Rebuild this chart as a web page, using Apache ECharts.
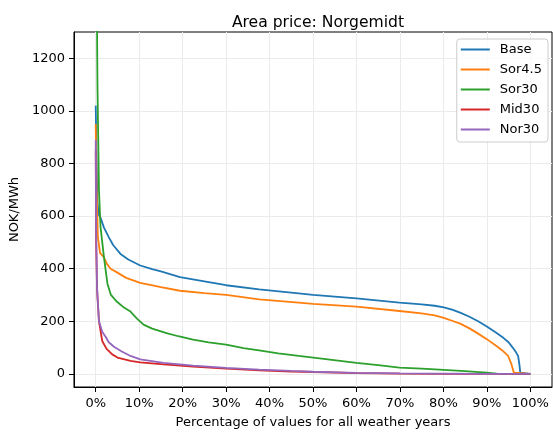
<!DOCTYPE html>
<html>
<head>
<meta charset="utf-8">
<script src="https://cdn.jsdelivr.net/npm/echarts@6/dist/echarts.min.js"></script>
<style>
  html, body { margin: 0; padding: 0; background: #fff; }
  #chart { width: 553px; height: 434px; }
</style>
</head>
<body>
<div id="chart"></div>
<script>
// duration curves, [percentage of values, NOK/MWh]
const base = [[0,1020],[0.2,800],[0.4,650],[0.7,605],[1.1,594],[1.9,556],[3,520],[4,490],[5.7,456],[7.5,435],[10.25,412],[13,398],[15,390],[19.4,368],[25,352],[30,337],[37.6,321],[46.7,306],[50,300],[60,287],[69.9,271],[75,264],[78,259],[80.1,253],[82,244],[84,232],[86,217],[88,200],[90,180],[92,158],[93.8,137],[95,120],[96,99],[96.8,80],[97.2,68],[97.5,35],[97.7,5],[97.8,0],[100,0]];
const sor45 = [[0,950],[0.2,700],[0.5,520],[1,460],[1.9,443],[2.5,420],[3.4,400],[5,385],[7,365],[10.25,346],[15,330],[19.4,316],[25,307],[30,300],[37.6,283],[46.7,271],[50,266],[60,256],[69.9,239],[75,230],[78,222],[80.1,213],[82,202],[84,190],[86,173],[88,153],[90,132],[92.3,105],[93.5,90],[94.9,68],[95.6,40],[96.2,5],[96.3,0],[100,0]];
const sor30 = [[0,2000],[0.4,1100],[0.75,700],[1.1,560],[1.9,443],[2.7,343],[3.5,300],[4.9,274],[6.5,252],[8,237],[9.5,210],[11,187],[13,172],[16.3,155],[19,143],[22.4,130],[26,120],[30,111],[34,98],[37.6,89],[42,78],[46.7,68],[52,58],[60,42],[65,33],[69.9,24],[75,20],[80.1,15],[85,10],[90,5],[92.3,1],[95,0],[100,0]];
const mid30 = [[0,850],[0.1,500],[0.3,330],[0.4,293],[0.75,200],[1.5,125],[2.5,95],[3.8,74],[5,62],[8,49],[10.25,44],[15.6,36],[22.4,28],[30,20],[37.6,13],[45,9],[50,7],[60,3],[70,1],[80,0],[100,0]];
const nor30 = [[0,890],[0.1,550],[0.3,330],[0.5,270],[0.75,200],[1.5,160],[2.3,140],[3,120],[4.2,103],[6,85],[8,68],[10.25,55],[15.6,42],[22.4,31],[30,23],[37.6,16],[45,11],[50,8],[60,4],[70,2],[80,1],[90,0],[100,0]];

const seriesNames = ['Base', 'Sor4.5', 'Sor30', 'Mid30', 'Nor30'];
const seriesData = [base, sor45, sor30, mid30, nor30];
const colors = ['#1f77b4', '#ff7f0e', '#2ca02c', '#d62728', '#9467bd'];

const xTicks = [0, 10, 20, 30, 40, 50, 60, 70, 80, 90, 100];
const yTicks = [0, 200, 400, 600, 800, 1000, 1200];

const font = 'DejaVu Sans';
const chart = echarts.init(document.getElementById('chart'));

const gridLine = { show: true, lineStyle: { color: '#ebebeb', width: 1 } };

chart.setOption({
    animation: false,
    textStyle: { fontFamily: font },
    title: {
        text: 'Area price: Norgemidt',
        left: 313, top: 10, textAlign: 'center',
        textStyle: { fontFamily: font, fontSize: 15.6, fontWeight: 'normal', color: '#000' }
    },
    grid: { left: 73, right: 1, top: 32, bottom: 42, show: true, borderColor: '#000', borderWidth: 1 },
    legend: {
        orient: 'vertical',
        right: 5, top: 39,
        itemWidth: 29, itemHeight: 2, itemGap: 7,
        padding: [4, 6, 6, 4],
        borderColor: '#ccc', borderWidth: 1, borderRadius: 3,
        backgroundColor: 'rgba(255,255,255,0.8)',
        icon: 'rect',
        textStyle: { fontFamily: font, fontSize: 13, lineHeight: 13, color: '#000', padding: [0, 0, 0, 5] },
        data: seriesNames
    },
    xAxis: {
        type: 'value', min: -5, max: 105,
        name: 'Percentage of values for all weather years',
        nameLocation: 'middle', nameGap: 29,
        nameTextStyle: { fontFamily: font, fontSize: 13, color: '#000' },
        axisLine: { show: true, onZero: false, lineStyle: { color: '#000', width: 1 } },
        axisTick: { show: true, length: 5, customValues: xTicks, lineStyle: { color: '#000' } },
        axisLabel: { customValues: xTicks, margin: 10, fontSize: 13, color: '#000', formatter: v => v + '%' },
        splitLine: gridLine
    },
    yAxis: {
        type: 'value', min: -50, max: 1300,
        name: 'NOK/MWh',
        nameLocation: 'middle', nameGap: 48,
        nameTextStyle: { fontFamily: font, fontSize: 13, color: '#000' },
        axisLine: { show: true, onZero: false, lineStyle: { color: '#000', width: 1 } },
        axisTick: { show: true, length: 5, customValues: yTicks, lineStyle: { color: '#000' } },
        axisLabel: { customValues: yTicks, margin: 9, fontSize: 13, color: '#000', formatter: v => String(v) },
        splitLine: gridLine
    },
    series: seriesNames.map((name, i) => ({
        name: name,
        type: 'line',
        data: seriesData[i],
        showSymbol: false,
        symbol: 'none',
        clip: true,
        color: colors[i],
        lineStyle: { width: 1.8, color: colors[i] }
    }))
});
</script>
</body>
</html>
